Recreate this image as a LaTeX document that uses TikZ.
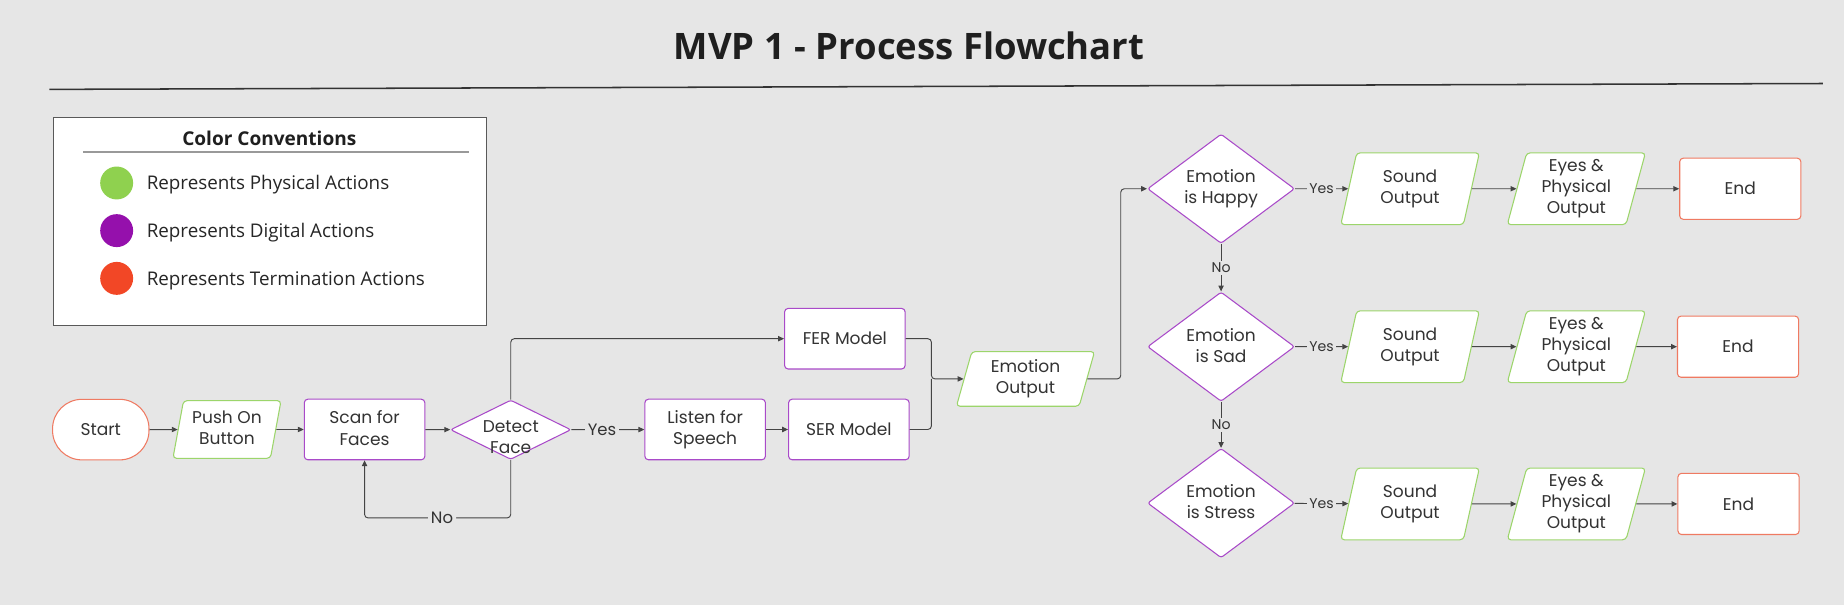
\documentclass[tikz,border=0pt]{standalone}
\usepackage{fontspec}
\setmainfont{Poppins}
\newfontfamily\osans{Open Sans}
\usetikzlibrary{shapes.geometric,arrows.meta}
\definecolor{bg}{HTML}{E6E6E6}
\definecolor{cgreen}{HTML}{8FD14F}
\definecolor{cpurple}{HTML}{9510AC}
\definecolor{cred}{HTML}{F24726}
\definecolor{bgreen}{HTML}{9CD56B}
\definecolor{bpurple}{HTML}{A94AC9}
\definecolor{bred}{HTML}{EF7A62}
\definecolor{ln}{HTML}{444444}
\definecolor{tx}{HTML}{333333}
\newcommand\lnstrut{\rule[-2.5pt]{0pt}{18pt}}
\tikzset{
 base/.style={font=\fontsize{14.5}{18}\selectfont, text=tx, align=center, inner sep=0pt, fill=white, line width=0.9pt},
 ml/.style={execute at begin node={\lnstrut}, execute at end node={\lnstrut}},
 proc/.style={base, draw=bpurple, rectangle, rounded corners=3pt, minimum width=102.5pt, minimum height=51.5pt},
 term/.style={base, draw=bred, rectangle, rounded corners=3pt, minimum width=103pt, minimum height=52pt},
 startbox/.style={base, draw=bred, rectangle, rounded corners=25pt, minimum width=82pt, minimum height=51.5pt},
 para/.style={base, draw=bgreen, trapezium, trapezium left angle=77, trapezium right angle=103, trapezium stretches=true, rounded corners=3pt},
 sndbox/.style={para, ml, minimum width=118pt, minimum height=61pt},
 dec/.style={base, draw=bpurple, diamond, aspect=1.35, rounded corners=2pt},
 bigdec/.style={dec, ml, minimum width=125pt, minimum height=93pt},
 arr/.style={draw=ln, line width=0.8pt, -{Triangle[length=5pt,width=4.5pt]}},
 conn/.style={draw=ln, line width=0.8pt},
 lab/.style={font=\fontsize{14}{16}\selectfont, text=tx, fill=bg, inner sep=2.5pt},
 slab/.style={font=\fontsize{12}{14}\selectfont, text=tx, fill=bg, inner sep=1.8pt},
 legtext/.style={font=\osans\fontsize{16}{19}\selectfont, text=black!85, anchor=base west, inner sep=0pt},
 dot/.style={circle, minimum size=28pt, inner sep=0pt},
}
\begin{document}
\begin{tikzpicture}[x=1pt,y=-1pt]
\fill[bg] (0,0) rectangle (1568,514.4);
\useasboundingbox (0,0) rectangle (1568,514.4);
% title
\node[font=\osans\bfseries\fontsize{31}{36}\selectfont, text=black!88, anchor=base, inner sep=0pt] (title) at (773,50.6) {MVP 1 - Process Flowchart};
\draw[line width=1.3pt, draw=black!80] (42,76) coordinate (tl) -- (1550,71) coordinate (tr);
% legend
\node[draw=black!65, fill=white, line width=0.9pt, minimum width=368pt, minimum height=177pt, inner sep=0pt, anchor=north west] (legend) at (45.4,99.2) {};
\node[font=\osans\bfseries\fontsize{16.2}{19}\selectfont, text=black!88, anchor=base, inner sep=0pt] (leghead) at (229,123.9) {Color Conventions};
\draw[draw=black!40, line width=1.2pt] (70.6,129.2) coordinate (sl) -- (398.7,129.2) coordinate (sr);
\node[dot, fill=cgreen] (c1) at (99.2,155.6) {};
\node[dot, fill=cpurple] (c2) at (99.2,196.1) {};
\node[dot, fill=cred] (c3) at (99.2,236.7) {};
\node[legtext] (t1) at (124.6,161.4) {Represents Physical Actions};
\node[legtext] (t2) at (124.6,201.9) {Represents Digital Actions};
\node[legtext] (t3) at (124.6,242.5) {Represents Termination Actions};
% main flow
\node[startbox] (start) at (85.7,365.3) {Start};
\node[para, ml, minimum width=92pt, minimum height=49pt] (push) at (193,365.2) {Push On\\Button};
\node[proc, ml] (scan) at (310,365.2) {Scan for\\Faces};
\node[dec, minimum width=102.4pt, minimum height=50.5pt] (det) at (434.3,365.4) {};
\node[base, fill=none] (dett) at (434.3,371.5) {Detect\\Face};
\node[proc, ml] (listen) at (599.6,365.2) {Listen for\\Speech};
\node[proc] (ser) at (721.8,365.2) {SER Model};
\node[proc] (fer) at (718.4,288) {FER Model};
\node[para, ml, trapezium left angle=75.5, trapezium right angle=104.5, minimum width=118pt, minimum height=46.5pt] (emo) at (872,322.2) {Emotion\\Output};
% right column
\node[bigdec] (happy) at (1038.3,160.5) {Emotion\\is Happy};
\node[bigdec] (sad) at (1038.3,294.8) {Emotion\\is Sad};
\node[bigdec] (stress) at (1038.3,427.8) {Emotion\\is Stress};
\node[sndbox] (snd1) at (1199,160.5) {Sound\\Output};
\node[sndbox] (eye1) at (1340.4,160.5) {Eyes \&\\Physical\\Output};
\node[term] (end1) at (1479.8,160.5) {End};
\node[sndbox] (snd2) at (1199,294.8) {Sound\\Output};
\node[sndbox] (eye2) at (1340.4,294.8) {Eyes \&\\Physical\\Output};
\node[term] (end2) at (1477.9,294.8) {End};
\node[sndbox] (snd3) at (1199,428.5) {Sound\\Output};
\node[sndbox] (eye3) at (1340.4,428.5) {Eyes \&\\Physical\\Output};
\node[term] (end3) at (1478.3,428.5) {End};
% connectors
\draw[arr] (start) -- (push);
\draw[arr] (push) -- (scan);
\draw[arr] (scan) -- (det);
\draw[arr] (det) -- node[lab, pos=0.42]{Yes} (listen);
\draw[arr] (listen) -- (ser);
\draw[arr, rounded corners=3pt] (det.north) |- (fer);
\draw[arr, rounded corners=3pt] (det.south) -- ++(0,49.3) -| node[lab, pos=0.235]{No} (scan.south);
\coordinate (j) at (792,322.2);
\draw[arr, rounded corners=3pt] (fer) -| (j) -- (emo);
\draw[conn, rounded corners=3pt] (ser) -| (j);
\coordinate (k) at (953,322.2);
\draw[arr, rounded corners=3pt] (emo) -- (k) |- (happy);
\draw[arr] (happy) -- node[slab]{Yes} (snd1);
\draw[arr] (sad) -- node[slab]{Yes} (snd2);
\draw[arr] (stress) -- node[slab]{Yes} (snd3);
\draw[arr] (happy) -- node[slab]{No} (sad);
\draw[arr] (sad) -- node[slab]{No} (stress);
\draw[arr] (snd1) -- (eye1);
\draw[arr] (eye1) -- (end1);
\draw[arr] (snd2) -- (eye2);
\draw[arr] (eye2) -- (end2);
\draw[arr] (snd3) -- (eye3);
\draw[arr] (eye3) -- (end3);
\end{tikzpicture}
\end{document}
